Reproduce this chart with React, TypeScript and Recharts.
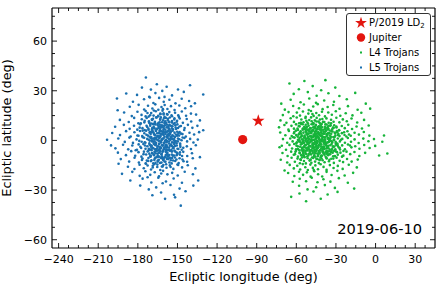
import { ScatterChart, Scatter, XAxis, YAxis, Legend, Customized } from "recharts";

type Pt = [number, number];

// L5 Trojans (trailing cloud), [longitude, latitude] in deg
const L5_TROJANS: Pt[] = [
  [-173.9, 38.0], [-165.6, 33.9], [-140.5, 33.3],
  [-176.9, 31.9], [-170.1, 30.7], [-158.2, 32.4], [-149.6, 30.8], [-161.5, 29.9],
  [-188.8, 28.3], [-130.5, 27.7], [-166.7, 28.6], [-154.1, 27.2], [-171.4, 26.4], [-145.2, 29.3], [-180.6, 27.5], [-159.8, 26.3],
  [-195.8, 25.3], [-183.7, 23.4], [-175.3, 24.9], [-168.2, 22.6], [-163.9, 25.7], [-160.4, 23.3], [-156.1, 24.6], [-151.5, 22.4],
  [-146.8, 25.2], [-141.2, 23.8], [-136.8, 22.4], [-170.9, 25.9],
  [-195.3, 18.2], [-186.1, 20.3], [-179.4, 21.5], [-175.2, 18.7], [-172.3, 20.9], [-169.0, 19.3], [-166.8, 21.8], [-164.5, 18.5],
  [-162.1, 20.2], [-159.7, 21.4], [-157.6, 19.0], [-154.9, 20.7], [-152.2, 18.3], [-148.6, 21.1], [-144.1, 19.4], [-139.7, 20.6],
  [-167.9, 18.1], [-161.0, 18.9],
  [-190.4, 16.9], [-184.6, 14.7], [-180.3, 17.3], [-177.2, 15.4], [-174.1, 17.8], [-171.8, 14.4], [-169.9, 16.5], [-168.1, 15.0],
  [-166.4, 17.6], [-164.6, 14.8], [-163.0, 16.3], [-161.3, 17.9], [-159.8, 14.2], [-158.0, 15.9], [-156.2, 17.1], [-154.1, 14.6],
  [-151.8, 16.7], [-149.4, 15.1], [-146.7, 17.5], [-143.5, 14.9], [-139.8, 16.2], [-135.9, 15.6], [-172.7, 16.6], [-160.5, 15.7],
  [-193.6, 12.4], [-186.9, 11.1], [-182.8, 13.6], [-179.6, 10.4], [-177.0, 12.8], [-175.1, 10.9], [-173.3, 13.5], [-171.6, 11.6],
  [-170.0, 10.2], [-168.5, 13.1], [-167.1, 11.2], [-165.8, 13.9], [-164.3, 10.7], [-163.1, 12.5], [-161.7, 11.0], [-160.2, 13.4],
  [-158.9, 10.3], [-157.4, 12.2], [-155.8, 13.8], [-154.2, 10.8], [-152.4, 12.7], [-150.5, 11.3], [-148.3, 13.2], [-145.9, 10.6],
  [-143.0, 12.9], [-139.6, 11.4], [-133.0, 12.1], [-162.6, 13.9], [-156.5, 11.1], [-169.2, 12.3],
  [-197.2, 8.3], [-190.6, 9.4], [-186.2, 7.0], [-182.9, 8.9], [-180.4, 6.5], [-178.3, 9.7], [-176.5, 7.4], [-174.9, 6.2],
  [-173.4, 8.8], [-172.0, 7.1], [-170.7, 9.9], [-169.3, 6.6], [-168.0, 8.3], [-166.8, 9.6], [-165.5, 7.0], [-164.2, 8.6],
  [-163.0, 6.1], [-161.8, 9.2], [-160.5, 7.7], [-159.2, 6.4], [-157.9, 9.5], [-156.5, 7.2], [-155.0, 8.9], [-153.4, 6.7],
  [-151.6, 9.1], [-149.6, 7.5], [-147.4, 8.7], [-144.9, 6.3], [-142.1, 9.4], [-138.7, 7.6], [-134.9, 8.8], [-130.5, 6.1],
  [-162.4, 7.9], [-167.6, 7.5],
  [-199.4, 4.5], [-193.5, 3.2], [-188.9, 5.6], [-185.4, 2.4], [-182.6, 4.9], [-180.3, 3.0], [-178.4, 5.7], [-176.7, 2.6],
  [-175.1, 4.3], [-173.7, 5.9], [-172.4, 2.9], [-171.1, 4.6], [-169.9, 2.1], [-168.7, 5.2], [-167.5, 3.5], [-166.4, 5.8],
  [-165.2, 2.7], [-164.0, 4.4], [-162.9, 2.2], [-161.7, 5.4], [-160.5, 3.3], [-159.3, 4.9], [-158.0, 2.5], [-156.7, 4.0],
  [-155.3, 5.5], [-153.8, 3.1], [-152.2, 4.7], [-150.4, 2.8], [-148.4, 5.1], [-146.2, 3.8], [-143.7, 2.3], [-140.9, 4.6],
  [-137.4, 3.6], [-133.6, 5.0], [-163.4, 5.6], [-157.6, 3.4], [-170.3, 3.8], [-154.5, 2.0],
  [-203.3, 0.4], [-200.3, -3.0], [-194.8, 1.2], [-189.9, -0.9], [-186.4, 1.7], [-183.7, -1.5], [-181.0, 0.6], [-178.9, -0.3],
  [-176.2, 1.9], [-174.8, -1.1], [-172.9, 0.9], [-171.3, -1.8], [-170.2, 1.3], [-168.6, -0.5], [-167.1, 1.6], [-166.2, -1.4],
  [-164.9, 0.2], [-163.5, 1.8], [-162.6, -0.9], [-161.1, 1.0], [-160.3, -1.6], [-158.7, 0.4], [-157.9, 1.9], [-156.4, -0.7],
  [-155.2, 1.4], [-154.1, -1.2], [-152.5, 0.8], [-151.3, -0.4], [-149.6, 1.1], [-148.0, -1.9], [-146.9, 0.1], [-144.8, 1.5],
  [-142.7, -0.6], [-140.4, 0.9], [-137.9, -1.3], [-134.6, 0.5], [-169.4, 0.0], [-159.5, -0.2],
  [-197.0, -4.8], [-191.2, -2.6], [-187.3, -5.4], [-184.2, -3.1], [-181.6, -5.9], [-179.4, -2.4], [-177.5, -4.6], [-175.8, -2.2],
  [-174.2, -5.1], [-172.8, -3.5], [-171.5, -5.7], [-170.2, -2.9], [-168.9, -4.4], [-167.6, -2.3], [-166.4, -5.5], [-165.2, -3.8],
  [-164.0, -2.1], [-162.8, -4.9], [-161.6, -3.0], [-160.4, -5.3], [-159.1, -2.7], [-157.8, -4.2], [-156.4, -5.8], [-155.0, -2.5],
  [-153.5, -4.7], [-151.8, -3.3], [-150.0, -5.0], [-147.9, -2.8], [-145.6, -4.5], [-142.9, -3.6], [-139.8, -5.2], [-136.1, -2.9],
  [-163.4, -3.9], [-158.5, -3.6], [-169.6, -5.9], [-154.3, -3.4],
  [-195.1, -7.4], [-189.0, -8.9], [-185.0, -6.5], [-182.0, -9.3], [-179.5, -7.1], [-177.3, -9.8], [-175.4, -6.8], [-173.7, -8.5],
  [-172.1, -6.2], [-170.6, -9.6], [-169.2, -7.6], [-167.8, -8.9], [-166.4, -6.4], [-165.0, -9.2], [-163.6, -7.3], [-162.2, -8.4],
  [-160.8, -6.1], [-159.3, -9.9], [-157.8, -7.7], [-156.2, -8.8], [-154.5, -6.6], [-152.6, -9.1], [-150.5, -7.4], [-148.2, -8.6],
  [-145.6, -6.9], [-142.6, -9.4], [-139.0, -7.8], [-133.0, -10.1], [-161.5, -9.9], [-171.3, -8.0], [-158.6, -6.3], [-164.3, -9.7],
  [-192.9, -11.3], [-186.6, -12.8], [-182.5, -10.5], [-179.2, -13.4], [-176.5, -11.0], [-174.1, -13.9], [-172.0, -10.7], [-170.1, -12.5],
  [-168.3, -13.8], [-166.6, -10.3], [-164.9, -12.1], [-163.2, -13.6], [-161.5, -10.9], [-159.8, -12.7], [-158.0, -11.2], [-156.1, -13.3],
  [-154.0, -10.6], [-151.7, -12.4], [-149.1, -13.7], [-146.2, -11.5], [-142.7, -12.9], [-138.4, -10.8], [-167.5, -11.8], [-160.6, -11.6],
  [-173.2, -12.2], [-155.0, -12.0],
  [-194.6, -14.1], [-187.5, -15.9], [-182.6, -17.3], [-178.7, -14.7], [-175.5, -16.8], [-172.6, -15.2], [-170.0, -17.6], [-167.6, -14.4],
  [-165.3, -16.1], [-163.0, -17.9], [-160.7, -14.9], [-158.3, -16.5], [-155.8, -15.1], [-153.1, -17.2], [-150.0, -14.6], [-146.5, -16.3],
  [-142.2, -15.0], [-136.4, -16.9], [-168.7, -16.4], [-161.8, -15.8],
  [-192.0, -20.2], [-184.2, -19.0], [-178.6, -21.4], [-174.3, -18.6], [-170.6, -20.8], [-167.2, -19.2], [-164.0, -21.7], [-160.9, -18.4],
  [-157.6, -20.5], [-154.0, -19.6], [-149.8, -21.2], [-144.5, -18.9], [-138.3, -20.4], [-162.3, -20.0],
  [-185.7, -24.2], [-176.4, -23.1], [-169.8, -25.4], [-164.5, -22.6], [-158.7, -24.8], [-152.9, -23.0], [-146.6, -25.6], [-134.3, -24.2],
  [-172.6, -22.3], [-161.2, -25.9],
  [-178.2, -27.3], [-138.0, -27.3], [-166.1, -28.4], [-155.3, -26.9], [-148.4, -29.1], [-171.7, -29.6],
  [-162.4, -31.5], [-152.6, -32.8], [-143.9, -30.7], [-169.0, -33.1],
  [-159.4, -35.3], [-151.8, -34.4], [-147.5, -39.4],
];

// extra members of the dense L5 core
const L5_CORE: Pt[] = [
  [-161.4, 3.7], [-155.9, -6.2], [-168.3, 9.8], [-149.2, 4.4], [-174.6, -3.1], [-158.8, 13.6], [-164.1, -11.7], [-152.7, -1.3],
  [-170.9, 5.2], [-146.5, -9.4], [-177.8, 10.3], [-160.2, -4.5], [-156.7, 7.1], [-166.5, -7.8], [-150.3, 11.9], [-172.2, -12.4],
  [-163.8, 1.4], [-154.4, -13.9], [-179.5, 2.8], [-159.6, 9.2], [-167.9, -1.7], [-147.8, -3.9], [-162.9, 15.8], [-175.7, -8.3],
  [-153.1, 2.6], [-169.4, 12.7], [-157.3, -9.8], [-144.6, 7.5], [-165.2, -14.6], [-160.7, 6.3], [-171.8, 0.4], [-151.6, -6.8],
  [-158.1, -0.9], [-163.5, 10.9], [-176.4, 5.9], [-148.9, 14.2], [-166.8, 3.1], [-155.2, -16.1], [-169.9, -5.4], [-161.9, -8.1],
  [-153.8, 8.6], [-174.1, 14.5], [-158.4, 4.9], [-164.7, -3.6], [-146.1, 1.8], [-180.7, -5.7], [-156.1, 11.2], [-167.2, -10.9],
  [-150.8, -11.5], [-162.3, -1.2], [-172.9, 8.1], [-159.1, -12.9], [-154.9, 5.3], [-165.9, 6.8], [-149.7, -0.6], [-177.1, -0.8],
  [-160.5, 16.4], [-168.7, -15.3], [-152.3, 13.4], [-163.1, -6.3], [-157.6, 1.7], [-170.3, -9.1], [-145.4, -12.6], [-166.1, 13.9],
  [-155.8, -3.2], [-173.5, 3.4], [-161.2, -15.7], [-151.1, 6.9], [-164.3, 7.6], [-158.9, -6.9], [-178.6, 7.7], [-148.1, -7.2],
  [-167.6, 0.9], [-154.5, 15.1], [-162.7, 4.1], [-171.1, -2.6], [-156.9, -11.3], [-152.9, -4.6], [-165.5, -4.9], [-159.8, 2.2],
  [-174.8, 11.9], [-150.1, 9.7], [-163.9, -9.9], [-169.1, 7.4], [-157.2, 13.1], [-147.3, 4.1], [-161.6, -2.9], [-176.9, -11.8],
  [-155.4, 0.3], [-166.9, 10.4], [-153.6, -9.2], [-160.9, 12.1], [-172.6, -6.7], [-158.2, 7.9], [-164.9, -12.8], [-149.5, -14.8],
  [-168.1, 4.6], [-156.4, -1.9], [-162.1, -13.4], [-151.9, 2.1], [-170.7, 15.2], [-159.4, -4.1], [-165.8, 1.8], [-154.1, 11.7],
  [-173.8, -14.1], [-157.8, -8.6], [-163.3, 6.2], [-148.6, 0.7], [-167.4, -6.9], [-160.1, 8.8], [-175.2, 1.6], [-152.5, -2.2],
  [-158.6, -14.4], [-164.6, 14.6], [-155.5, 3.9], [-169.7, -12.0], [-161.8, 0.6], [-146.8, -5.6], [-166.3, -2.4], [-157.1, 5.6],
  [-171.5, 10.7], [-153.3, -12.1], [-163.6, -5.1], [-159.3, 11.5], [-150.6, -8.9], [-168.6, 1.2], [-156.0, 9.4], [-162.5, -10.6],
  [-174.3, -1.4], [-154.7, -5.8], [-160.4, 5.1], [-165.1, 9.3], [-149.9, 3.3], [-170.1, -3.8], [-158.3, -2.6], [-163.0, 12.9],
  [-155.9, -10.4], [-167.8, -8.6], [-152.1, 10.5], [-161.1, -6.6], [-178.1, -3.9], [-157.5, 15.6], [-164.0, -0.3], [-153.9, 0.9],
  [-166.6, -13.6], [-159.0, -10.2], [-171.9, 6.4], [-156.6, 2.9], [-162.6, 8.4], [-148.4, -10.8], [-169.2, -0.7], [-160.8, -11.9],
  [-154.3, 7.3], [-165.4, 4.3], [-158.7, -5.3],
  [-160.6, 1.3], [-154.8, -2.8], [-166.2, 5.7], [-151.4, 7.8], [-169.5, -3.3], [-157.7, -7.4], [-163.2, 9.5], [-149.3, -5.2],
  [-171.2, 2.2], [-155.6, 4.6], [-161.9, -9.6], [-167.3, -0.6], [-152.8, 0.2], [-158.5, 10.6], [-164.4, -5.8], [-170.6, 8.9],
  [-156.3, -4.4], [-150.7, -1.7], [-162.8, 3.0], [-168.9, -7.9], [-153.6, 5.9], [-159.7, -1.1], [-165.6, -10.1], [-148.8, 2.9],
  [-157.0, 8.2], [-163.7, -2.0], [-171.7, -5.0], [-154.2, -8.5], [-160.0, 6.9], [-166.9, 1.5], [-151.9, -10.3], [-158.0, -3.5],
  [-164.8, 10.1], [-169.8, 4.9], [-155.1, 2.4], [-161.3, -6.9], [-167.5, 7.3], [-150.2, 5.2], [-156.8, -9.1], [-162.1, 0.1],
  [-168.2, -4.7], [-153.0, 9.9], [-159.2, 3.9], [-165.0, -8.0], [-171.0, -0.2], [-155.9, 6.4], [-160.9, -3.0], [-166.7, -2.9],
  [-149.9, -8.0], [-157.9, -0.4], [-163.4, 7.1], [-152.3, -6.1], [-168.4, 10.0], [-154.6, 1.0], [-161.0, 4.4], [-165.3, -6.2],
  [-158.9, -8.8], [-170.4, -9.8], [-156.2, 9.0], [-162.4, -4.6], [-151.2, 3.6], [-167.0, -5.3], [-159.9, 10.5], [-153.4, -3.9],
  [-164.2, 2.6], [-157.4, -5.7], [-148.5, 8.4], [-169.0, 6.0], [-155.3, -10.8], [-161.6, 8.0], [-163.9, -7.4], [-152.0, -0.9],
  [-166.0, 0.6], [-158.2, 5.3], [-154.0, -6.7], [-160.3, -10.7], [-167.8, 3.8], [-150.5, -3.1], [-162.9, 5.8], [-156.5, 0.8],
];

// L4 Trojans (leading cloud)
const L4_TROJANS: Pt[] = [
  [-65.2, 34.4], [-53.9, 35.9], [-38.0, 36.4],
  [-30.5, 31.9], [-47.6, 32.8], [-58.1, 30.9], [-41.2, 30.3],
  [-15.4, 28.7], [-62.0, 28.1], [-51.3, 29.2], [-44.6, 27.0], [-35.7, 28.5], [-27.4, 26.8],
  [-71.4, 22.2], [-7.4, 22.2], [-64.3, 24.6], [-56.8, 23.1], [-50.2, 25.3], [-45.1, 22.7], [-38.9, 24.1], [-31.5, 23.4], [-21.8, 24.9],
  [-4.1, 19.2], [-68.7, 18.6], [-62.4, 20.8], [-58.0, 19.4], [-54.3, 21.7], [-50.6, 18.3], [-47.2, 20.5], [-43.8, 21.9],
  [-40.1, 18.9], [-36.3, 20.2], [-32.0, 21.4], [-27.3, 19.1], [-20.9, 20.7], [-13.6, 18.5],
  [-70.2, 15.3], [-65.9, 17.1], [-62.3, 14.6], [-59.6, 16.8], [-57.2, 15.0], [-55.0, 17.5], [-52.9, 14.3], [-50.9, 16.2],
  [-48.9, 17.8], [-46.9, 14.8], [-44.9, 16.6], [-42.8, 15.2], [-40.6, 17.3], [-38.3, 14.5], [-35.8, 16.9], [-33.1, 15.5],
  [-30.1, 17.6], [-26.7, 14.9], [-22.6, 16.4], [-17.5, 15.1], [-10.8, 16.7], [-47.8, 15.9],
  [-72.0, 12.1], [-67.5, 10.6], [-64.3, 13.4], [-61.8, 11.2], [-59.7, 13.8], [-57.9, 10.4], [-56.2, 12.6], [-54.6, 11.0],
  [-53.1, 13.5], [-51.6, 10.8], [-50.2, 12.3], [-48.8, 13.9], [-47.4, 10.5], [-46.0, 12.1], [-44.6, 13.6], [-43.2, 11.4],
  [-41.8, 10.2], [-40.3, 12.9], [-38.8, 11.1], [-37.2, 13.3], [-35.5, 10.7], [-33.7, 12.5], [-31.8, 11.3], [-29.7, 13.7],
  [-27.4, 10.9], [-24.8, 12.7], [-21.8, 11.6], [-18.2, 13.2], [-13.9, 10.8], [-8.7, 12.4], [-52.4, 11.9], [-42.1, 12.6],
  [-73.1, 7.9], [-69.0, 9.3], [-66.0, 6.5], [-63.7, 8.8], [-61.8, 7.1], [-60.2, 9.7], [-58.8, 6.3], [-57.5, 8.5],
  [-56.3, 9.9], [-55.1, 6.9], [-54.0, 8.2], [-52.9, 9.5], [-51.8, 6.6], [-50.7, 8.9], [-49.6, 7.3], [-48.5, 9.8],
  [-47.4, 6.2], [-46.3, 8.0], [-45.2, 9.4], [-44.1, 6.8], [-43.0, 8.6], [-41.9, 7.5], [-40.8, 9.9], [-39.6, 6.4],
  [-38.4, 8.3], [-37.1, 9.6], [-35.8, 7.0], [-34.4, 8.9], [-32.9, 6.7], [-31.3, 9.2], [-29.6, 7.8], [-27.7, 6.1],
  [-25.6, 8.7], [-23.3, 7.4], [-20.7, 9.5], [-17.8, 6.9], [-14.4, 8.4], [-10.3, 7.2], [-5.2, 9.0], [-53.5, 7.6],
  [-45.8, 7.2], [-36.4, 7.9],
  [-72.2, 4.8], [-68.3, 3.1], [-65.6, 5.7], [-63.5, 2.6], [-61.8, 4.4], [-60.3, 5.9], [-59.0, 2.3], [-57.8, 4.0],
  [-56.7, 5.5], [-55.6, 2.9], [-54.6, 4.7], [-53.6, 2.0], [-52.6, 5.2], [-51.6, 3.4], [-50.7, 5.8], [-49.7, 2.5],
  [-48.8, 4.3], [-47.8, 5.6], [-46.9, 2.2], [-46.0, 3.9], [-45.0, 5.4], [-44.1, 2.8], [-43.1, 4.6], [-42.2, 3.2],
  [-41.2, 5.9], [-40.2, 2.4], [-39.2, 4.1], [-38.1, 5.3], [-37.0, 2.7], [-35.9, 4.5], [-34.7, 3.0], [-33.4, 5.6],
  [-32.0, 2.1], [-30.6, 4.2], [-29.0, 5.0], [-27.3, 2.6], [-25.5, 4.4], [-23.5, 3.3], [-21.3, 5.5], [-18.8, 2.8],
  [-15.9, 4.6], [-12.6, 3.5], [-8.9, 5.1], [-4.7, 2.9], [-58.3, 3.5], [-51.1, 4.1], [-44.5, 4.0], [-36.5, 3.7],
  [-28.1, 3.9], [-20.1, 3.6],
  [-72.7, -4.1], [-70.1, 0.8], [-66.9, -1.4], [-64.6, 1.2], [-62.8, -0.6], [-61.3, 1.7], [-60.0, -1.8], [-58.8, 0.3],
  [-57.7, 1.5], [-56.7, -1.1], [-55.7, 0.6], [-54.8, -1.6], [-53.9, 1.9], [-53.0, -0.2], [-52.1, 1.1], [-51.2, -1.3],
  [-50.3, 0.9], [-49.4, -0.7], [-48.5, 1.6], [-47.6, -1.9], [-46.7, 0.4], [-45.8, -1.0], [-44.9, 1.3], [-44.0, -0.4],
  [-43.1, 1.8], [-42.2, -1.5], [-41.3, 0.2], [-40.4, 1.4], [-39.4, -0.9], [-38.4, 0.7], [-37.4, -1.7], [-36.3, 1.0],
  [-35.2, -0.3], [-34.0, 1.6], [-32.8, -1.2], [-31.5, 0.5], [-30.1, -1.8], [-28.6, 1.2], [-27.0, -0.6], [-25.2, 0.9],
  [-23.2, -1.4], [-21.0, 1.5], [-18.6, -0.8], [-15.9, 0.6], [-12.8, -1.6], [-9.3, 1.1], [-5.4, -0.5], [-1.2, 0.8],
  [5.1, -0.8], [6.4, 3.0], [-48.0, 0.1], [-40.9, -0.5],
  [-71.0, -3.2], [-67.8, -5.6], [-65.2, -2.7], [-63.2, -4.9], [-61.6, -2.2], [-60.2, -5.4], [-58.9, -3.6], [-57.7, -5.9],
  [-56.6, -2.5], [-55.5, -4.3], [-54.5, -5.7], [-53.5, -2.9], [-52.5, -4.6], [-51.5, -2.1], [-50.6, -5.2], [-49.6, -3.4],
  [-48.7, -5.8], [-47.7, -2.4], [-46.8, -4.1], [-45.9, -5.5], [-44.9, -2.8], [-44.0, -4.7], [-43.0, -3.1], [-42.1, -5.9],
  [-41.1, -2.3], [-40.1, -4.4], [-39.1, -5.1], [-38.0, -2.6], [-36.9, -4.8], [-35.8, -3.3], [-34.6, -5.6], [-33.3, -2.2],
  [-31.9, -4.0], [-30.5, -5.3], [-28.9, -2.7], [-27.2, -4.5], [-25.3, -3.0], [-23.2, -5.4], [-20.9, -2.5], [-18.3, -4.2],
  [-15.4, -3.5], [-12.2, -5.0], [-8.6, -2.8], [-4.5, -4.6], [-0.3, -3.3], [2.7, -9.1], [-54.1, -3.9], [-47.2, -3.8],
  [-39.6, -3.7], [-32.3, -3.6],
  [-70.5, -7.6], [-66.6, -9.4], [-63.9, -6.8], [-61.9, -8.7], [-60.2, -6.2], [-58.8, -9.8], [-57.5, -7.3], [-56.3, -8.9],
  [-55.2, -6.5], [-54.1, -9.5], [-53.0, -7.9], [-51.9, -6.1], [-50.9, -9.1], [-49.8, -7.0], [-48.8, -8.5], [-47.7, -6.7],
  [-46.7, -9.7], [-45.6, -7.7], [-44.6, -6.3], [-43.5, -8.8], [-42.4, -7.2], [-41.3, -9.3], [-40.2, -6.4], [-39.0, -8.1],
  [-37.8, -9.9], [-36.5, -6.9], [-35.1, -8.4], [-33.7, -7.1], [-32.1, -9.6], [-30.4, -6.6], [-28.6, -8.6], [-26.6, -7.4],
  [-24.4, -9.2], [-22.0, -6.8], [-19.2, -8.3], [-16.0, -7.0], [-12.3, -9.4], [-7.9, -7.5], [8.9, -7.9], [-52.4, -8.2],
  [-44.1, -7.9], [-37.2, -8.0],
  [-71.8, -11.7], [-66.9, -13.3], [-63.6, -10.5], [-61.1, -12.9], [-59.1, -11.0], [-57.3, -13.8], [-55.7, -10.3], [-54.2, -12.4],
  [-52.8, -13.9], [-51.4, -10.8], [-50.0, -12.2], [-48.6, -13.5], [-47.2, -10.6], [-45.8, -12.8], [-44.4, -11.3], [-43.0, -13.7],
  [-41.6, -10.1], [-40.1, -12.0], [-38.6, -13.2], [-37.0, -10.9], [-35.3, -12.6], [-33.5, -11.1], [-31.6, -13.6], [-29.5, -10.4],
  [-27.2, -12.3], [-24.6, -13.1], [-21.6, -11.2], [-18.1, -12.8], [-13.5, -11.6], [-49.3, -11.5], [-42.3, -11.9], [-56.6, -11.8],
  [-68.9, -18.2], [-65.0, -14.8], [-61.9, -16.9], [-59.3, -15.3], [-57.1, -17.6], [-55.1, -14.3], [-53.2, -16.2], [-51.3, -17.9],
  [-49.4, -14.6], [-47.5, -16.6], [-45.6, -15.1], [-43.6, -17.4], [-41.6, -14.4], [-39.4, -16.0], [-37.1, -17.8], [-34.6, -14.9],
  [-31.8, -16.7], [-28.6, -15.4], [-24.9, -17.2], [-20.3, -14.7], [-14.2, -16.3], [-46.8, -17.9],
  [-66.2, -19.7], [-61.5, -21.5], [-58.0, -18.9], [-54.9, -20.8], [-52.0, -19.3], [-49.2, -21.9], [-46.4, -18.6], [-43.5, -20.4],
  [-40.4, -21.8], [-37.1, -19.0], [-33.3, -20.9], [-28.9, -18.4], [-23.4, -21.2], [-17.0, -19.6],
  [-62.7, -25.0], [-57.4, -23.2], [-52.6, -24.7], [-48.3, -22.6], [-44.0, -25.3], [-39.5, -23.5], [-34.2, -24.9], [-27.8, -22.8],
  [-21.0, -25.6],
  [-45.0, -28.3], [-16.2, -29.1], [-57.9, -27.4], [-51.5, -29.6], [-38.4, -27.0], [-30.8, -28.7],
  [-57.6, -32.1], [-36.3, -32.7], [-28.8, -31.1], [-63.9, -34.1], [-47.0, -30.9],
  [-52.6, -36.8], [-41.5, -35.2],
];

// extra members of the dense L4 core
const L4_CORE: Pt[] = [
  [-44.2, 2.3], [-51.7, -5.8], [-37.9, 7.4], [-56.4, 4.1], [-31.2, -3.7], [-47.3, 9.6], [-40.6, -9.2], [-54.1, -1.4],
  [-35.3, 1.1], [-60.7, -6.9], [-42.8, -2.7], [-49.5, 5.3], [-27.6, 6.2], [-45.9, -7.1], [-38.5, -5.1], [-58.2, 8.7],
  [-33.7, 10.3], [-52.9, 0.8], [-41.3, 4.7], [-24.3, -6.4], [-48.1, -10.3], [-36.2, -1.2], [-55.8, -9.1], [-43.6, 8.1],
  [-30.4, 2.9], [-50.2, -3.3], [-39.8, 11.2], [-62.3, 1.9], [-46.6, 0.2], [-34.4, -8.4], [-53.4, 6.8], [-42.1, -5.9],
  [-28.9, -1.9], [-57.1, -3.8], [-45.3, 5.9], [-37.2, -10.6], [-51.1, 10.1], [-40.2, 0.6], [-32.6, 5.4], [-59.6, -1.1],
  [-47.9, -4.6], [-35.7, 8.9], [-54.7, -7.4], [-43.9, -0.8], [-26.2, 0.4], [-49.0, 2.6], [-38.9, -3.9], [-61.5, 5.1],
  [-44.8, -11.1], [-31.9, -6.2], [-52.2, 3.7], [-41.7, 9.3], [-36.8, 3.3], [-56.9, -11.4], [-46.1, 7.8], [-29.7, 8.4],
  [-50.6, -8.2], [-39.3, -7.6], [-54.3, 1.6], [-43.3, -4.2], [-33.1, -0.5], [-48.4, 11.6], [-22.1, 2.4], [-58.7, -5.2],
  [-45.6, 3.5], [-37.6, -2.2], [-52.6, -2.6], [-41.0, 6.1], [-34.9, -11.7], [-55.2, 9.8], [-47.1, -1.8], [-30.8, -9.5],
  [-43.0, 0.9], [-50.9, 6.3], [-38.2, 1.9], [-60.1, 3.2], [-46.4, -8.9], [-35.0, 4.4], [-53.8, -10.2], [-42.5, 10.7],
  [-27.9, -4.3], [-49.8, -6.5], [-39.6, -0.4], [-57.6, 0.1], [-44.5, -3.4], [-32.3, 7.7], [-51.4, -0.3], [-40.9, -10.9],
  [-36.5, 6.6], [-55.5, -4.9], [-45.1, 1.5], [-25.4, -9.8], [-48.7, 4.8], [-42.4, -7.9], [-33.9, 2.3], [-59.1, 7.2],
  [-46.9, 10.4], [-38.7, -8.7], [-53.1, -6.1], [-41.5, 2.7], [-29.2, -7.1], [-50.4, 0.5], [-44.0, 6.8], [-35.6, -4.8],
  [-56.1, 2.6], [-47.6, -2.9], [-39.1, 4.0], [-31.5, 0.2], [-52.0, 8.2], [-43.8, -9.6], [-37.0, -6.3], [-61.0, -8.3],
  [-45.0, -5.5], [-34.1, 9.1], [-49.3, -11.8], [-40.5, 7.9], [-23.8, 4.9], [-54.9, -0.7], [-42.9, 3.9], [-36.0, -9.0],
  [-47.4, 6.4], [-30.0, -2.6], [-51.8, -9.7], [-41.9, -1.3], [-38.0, 9.7], [-57.4, -7.7], [-46.2, -6.0], [-33.4, -5.7],
  [-52.4, 4.6], [-44.7, 11.4], [-39.9, -4.5], [-28.4, 3.2], [-55.0, 7.1], [-48.6, -0.6], [-35.4, -0.9], [-43.4, 5.0],
  [-50.7, -4.0], [-37.4, 5.8], [-59.9, -3.2], [-45.7, -9.9], [-32.0, -11.0], [-53.6, -3.1], [-41.2, 8.6], [-26.9, -5.5],
  [-49.1, 7.5], [-40.0, -6.8], [-34.7, 0.7], [-56.6, 10.6], [-44.3, -1.6], [-19.4, -3.1], [-47.0, 3.0], [-38.3, -1.5],
  [-54.5, -8.7], [-42.7, -11.5], [-30.9, 4.8], [-51.0, 1.3], [-36.9, -7.3], [-45.4, 8.9],
  [-45.5, 0.7], [-39.0, -2.0], [-51.3, 2.2], [-33.6, 4.0], [-47.8, -6.3], [-42.0, 6.4], [-55.9, -2.1], [-36.7, -4.4],
  [-49.9, 7.0], [-44.4, -5.0], [-30.2, -0.9], [-53.2, -6.9], [-40.8, 2.8], [-46.8, 3.6], [-35.9, 7.2], [-57.3, 4.8],
  [-43.1, -7.8], [-38.6, 0.3], [-50.0, -1.4], [-32.5, -7.4], [-54.6, 0.0], [-41.4, -3.5], [-47.2, 7.9], [-37.8, -6.9],
  [-52.8, 5.6], [-44.7, -0.2], [-29.3, 5.6], [-49.2, -3.7], [-39.5, 5.2], [-56.0, -5.6], [-42.6, 1.1], [-34.3, -2.9],
  [-51.9, -4.5], [-46.3, -2.3], [-36.1, 1.6], [-53.7, 3.0], [-40.3, -5.8], [-48.0, 1.9], [-31.0, 2.0], [-44.0, 4.3],
  [-57.9, -0.6], [-38.0, -0.6], [-50.5, 4.2], [-42.8, -6.4], [-34.8, 6.0], [-47.5, -7.6], [-55.1, 6.4], [-40.6, 4.0],
  [-45.2, -3.9], [-33.0, -5.1], [-52.1, -0.9], [-37.3, 3.9], [-49.4, -7.9], [-43.7, 2.4], [-28.6, -3.3], [-54.0, -4.1],
  [-41.6, 7.1], [-46.0, 5.1], [-35.4, -6.6], [-50.8, -2.0], [-39.9, -7.3], [-44.9, -1.8], [-31.7, 7.6], [-56.7, 2.0],
  [-48.3, 6.0], [-37.0, -3.3], [-52.5, 7.7], [-42.3, -0.1], [-34.0, -0.3], [-47.0, -4.9], [-39.3, 2.1], [-54.9, -7.6],
  [-45.8, 2.6], [-36.4, -7.9], [-50.1, -5.6], [-41.1, -4.8], [-30.6, -5.9], [-43.9, 7.6], [-48.9, 0.4], [-38.4, 6.7],
];

const JUPITER: Pt[] = [[-100.6, 0.5]];
const LD2: Pt[] = [[-88.8, 11.8]];

const X_DOMAIN: [number, number] = [-245, 45];
const Y_DOMAIN: [number, number] = [-65, 80];
const X_MAJOR = [-240, -210, -180, -150, -120, -90, -60, -30, 0, 30];
const Y_MAJOR = [-60, -30, 0, 30, 60];
const MINOR_STEP = 7.5;

const DATE_LABEL = "2019-06-10";

const BLUE = "#1a70b0";
const GREEN = "#16b43a";
const RED = "#e3150f";
const FONT = "'DejaVu Sans', Verdana, sans-serif";

function allTicks(domain: [number, number]) {
  const out: number[] = [];
  const start = Math.ceil(domain[0] / MINOR_STEP) * MINOR_STEP;
  for (let v = start; v < domain[1] - 0.01; v += MINOR_STEP) out.push(Math.round(v * 10) / 10);
  return out;
}
const X_TICKS = allTicks(X_DOMAIN);
const Y_TICKS = allTicks(Y_DOMAIN);

const fmt = (v: number) => (v < 0 ? `\u2212${Math.abs(v)}` : `${v}`);
const MAJOR_LEN = 5;
const MINOR_LEN = 3;
const toRows = (pts: Pt[]) => pts.map(([lon, lat]) => ({ lon, lat }));

function BottomTick(props: any) {
  const { x, y, payload } = props;
  const major = X_MAJOR.includes(payload.value);
  const axisY = y - 7;
  return (
    <g>
      <line x1={x} x2={x} y1={axisY} y2={axisY - (major ? MAJOR_LEN : MINOR_LEN)} stroke="#000" strokeWidth={0.9} />
      {major && (
        <text x={x} y={y} dy="0.71em" textAnchor="middle" fontSize={11} fontFamily={FONT} fill="#000">
          {fmt(payload.value)}
        </text>
      )}
    </g>
  );
}

function TopTick(props: any) {
  const { x, y, payload } = props;
  const major = X_MAJOR.includes(payload.value);
  return <line x1={x} x2={x} y1={y} y2={y + (major ? MAJOR_LEN : MINOR_LEN)} stroke="#000" strokeWidth={0.9} />;
}

function LeftTick(props: any) {
  const { x, y, payload } = props;
  const major = Y_MAJOR.includes(payload.value);
  const axisX = x + 5;
  return (
    <g>
      <line x1={axisX} x2={axisX + (major ? MAJOR_LEN : MINOR_LEN)} y1={y} y2={y} stroke="#000" strokeWidth={0.9} />
      {major && (
        <text x={x} y={y} dy="0.36em" textAnchor="end" fontSize={11} fontFamily={FONT} fill="#000">
          {fmt(payload.value)}
        </text>
      )}
    </g>
  );
}

function RightTick(props: any) {
  const { x, y, payload } = props;
  const major = Y_MAJOR.includes(payload.value);
  return <line x1={x} x2={x - (major ? MAJOR_LEN : MINOR_LEN)} y1={y} y2={y} stroke="#000" strokeWidth={0.9} />;
}

function starPoints(cx: number, cy: number, R: number) {
  const r = R * 0.382;
  const pts: string[] = [];
  for (let i = 0; i < 10; i++) {
    const rad = i % 2 === 0 ? R : r;
    const a = -Math.PI / 2 + (i * Math.PI) / 5;
    pts.push(`${cx + rad * Math.cos(a)},${cy + rad * Math.sin(a)}`);
  }
  return pts.join(" ");
}

const StarShape = (p: any) => <polygon points={starPoints(p.cx, p.cy, 6.6)} fill={RED} />;
const JupiterShape = (p: any) => <circle cx={p.cx} cy={p.cy} r={4.6} fill={RED} />;
const dotShape = (color: string) => (p: any) => <circle cx={p.cx} cy={p.cy} r={1.3} fill={color} />;

function LegendBox() {
  const row = (top: number, marker: any, label: any) => (
    <div style={{ position: "absolute", left: 0, top, height: 15, width: "100%" }}>
      <svg width={24} height={15} style={{ position: "absolute", left: 2, top: 0 }}>
        {marker}
      </svg>
      <span style={{ position: "absolute", left: 22, top: 1, lineHeight: "13px", whiteSpace: "nowrap" }}>{label}</span>
    </div>
  );
  return (
    <div
      style={{
        position: "relative",
        width: 83,
        height: 61,
        border: "1px solid #333",
        borderRadius: 3,
        background: "#fff",
        fontFamily: FONT,
        fontSize: 10,
        color: "#000",
      }}
    >
      {row(1, <polygon points={starPoints(12, 8, 6.2)} fill={RED} />, (
        <>
          P/2019 LD<sub style={{ fontSize: 7, verticalAlign: "-2px" }}>2</sub>
        </>
      ))}
      {row(16, <circle cx={12} cy={7.5} r={4.2} fill={RED} />, "Jupiter")}
      {row(31, <rect x={11} y={6.5} width={2} height={2} fill={GREEN} />, "L4 Trojans")}
      {row(46, <rect x={11} y={6.5} width={2} height={2} fill={BLUE} />, "L5 Trojans")}
    </div>
  );
}

export default function App() {
  return (
    <div style={{ position: "absolute", left: 0, top: 0, width: 444, height: 285, background: "#fff" }}>
      <ScatterChart width={444} height={285} margin={{ top: 7, right: 8, bottom: 0, left: 0 }}>
        <XAxis
          xAxisId={0}
          type="number"
          dataKey="lon"
          domain={X_DOMAIN}
          allowDataOverflow
          ticks={X_TICKS}
          interval={0}
          height={37}
          tickSize={0}
          tickMargin={7}
          tickLine={false}
          tick={<BottomTick />}
          axisLine={{ stroke: "#000", strokeWidth: 1.2 }}
          label={{
            value: "Ecliptic longitude (deg)",
            position: "insideBottom",
            offset: 4,
            style: { fontSize: 12.8, fontFamily: FONT, fill: "#000" },
          }}
        />
        <XAxis
          xAxisId="top"
          orientation="top"
          type="number"
          dataKey="lon"
          domain={X_DOMAIN}
          allowDataOverflow
          ticks={X_TICKS}
          interval={0}
          height={1}
          tickSize={0}
          tickMargin={0}
          tickLine={false}
          tick={<TopTick />}
          axisLine={{ stroke: "#000", strokeWidth: 1.2 }}
        />
        <YAxis
          yAxisId={0}
          type="number"
          dataKey="lat"
          domain={Y_DOMAIN}
          allowDataOverflow
          ticks={Y_TICKS}
          interval={0}
          width={52}
          tickSize={0}
          tickMargin={5}
          tickLine={false}
          tick={<LeftTick />}
          axisLine={{ stroke: "#000", strokeWidth: 1.2 }}
          label={{
            value: "Ecliptic latitude (deg)",
            angle: -90,
            position: "insideLeft",
            offset: 6,
            style: { textAnchor: "middle", fontSize: 12.8, fontFamily: FONT, fill: "#000" },
          }}
        />
        <YAxis
          yAxisId="right"
          orientation="right"
          type="number"
          dataKey="lat"
          domain={Y_DOMAIN}
          allowDataOverflow
          ticks={Y_TICKS}
          interval={0}
          width={1}
          tickSize={0}
          tickMargin={0}
          tickLine={false}
          tick={<RightTick />}
          axisLine={{ stroke: "#000", strokeWidth: 1.2 }}
        />
        <Legend
          layout="vertical"
          align="center"
          verticalAlign="middle"
          content={() => <LegendBox />}
          wrapperStyle={{ left: 346, top: 13, width: 85, height: 63, right: "auto", bottom: "auto" }}
        />
        <Scatter name="L5 Trojans" data={toRows([...L5_TROJANS, ...L5_CORE])} shape={dotShape(BLUE)} isAnimationActive={false} />
        <Scatter name="L4 Trojans" data={toRows([...L4_TROJANS, ...L4_CORE])} shape={dotShape(GREEN)} isAnimationActive={false} />
        <Scatter
          name="Jupiter"
          xAxisId="top"
          yAxisId="right"
          data={toRows(JUPITER)}
          shape={JupiterShape}
          isAnimationActive={false}
        />
        <Scatter
          name="P/2019 LD2"
          xAxisId="top"
          yAxisId="right"
          data={toRows(LD2)}
          shape={StarShape}
          isAnimationActive={false}
        />
        <Customized
          component={() => (
            <text x={422} y={234} textAnchor="end" fontSize={14.6} fontFamily={FONT} fill="#000">
              {DATE_LABEL}
            </text>
          )}
        />
      </ScatterChart>
    </div>
  );
}
